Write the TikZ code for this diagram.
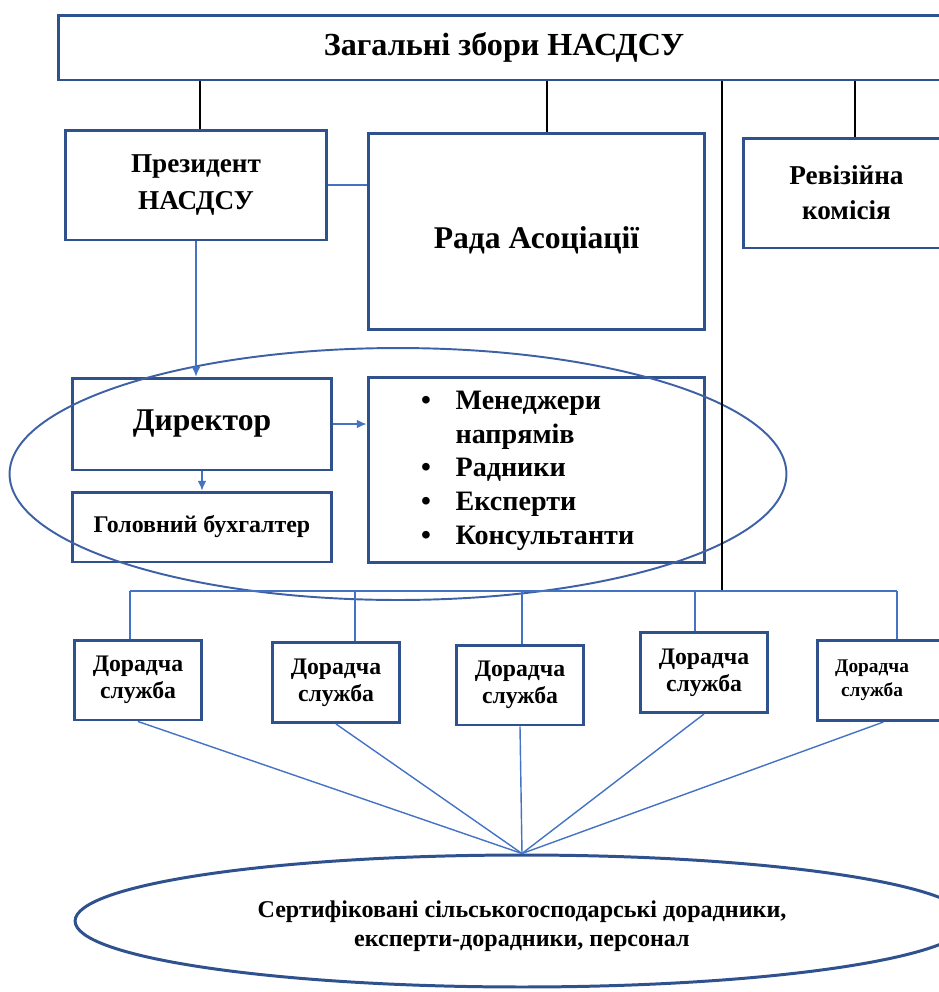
\documentclass[tikz,border=0pt]{standalone}
\usepackage{fontspec}
\setmainfont{Liberation Serif}
\usetikzlibrary{shapes.geometric,arrows.meta,calc}
\definecolor{boxblue}{RGB}{47,82,143}
\definecolor{linkblue}{RGB}{68,114,196}
\definecolor{ovalblue}{RGB}{62,96,165}
\begin{document}
\begin{tikzpicture}[x=0.02cm,y=-0.02cm,
  unit/.style={draw=boxblue, line width=1.7pt, rectangle, align=center, font=\bfseries},
  service/.style={unit, minimum width=2.56cm, minimum height=1.6cm, font=\bfseries\fontsize{13.5}{15.5}\selectfont},
  link/.style={draw=linkblue, line width=0.8pt},
  rule/.style={draw=black, line width=0.7pt},
  tip/.style={-{Latex[length=5.5pt,width=5pt]}}]
\useasboundingbox (0,0) rectangle (938,992);
\node[unit, minimum width=17.84cm, minimum height=1.3cm, font=\bfseries\fontsize{18.3}{20}\selectfont] (top) at (504,47.5) {Загальні збори НАСДСУ};
\node[unit, minimum width=5.24cm, minimum height=2.2cm, font=\bfseries\fontsize{15.5}{21}\selectfont] (pres) at (196,185) {Президент\\НАСДСУ};
\node[unit, minimum width=6.74cm, minimum height=3.94cm, text height=20pt, text depth=1pt, font=\bfseries\fontsize{18}{20}\selectfont] (rada) at (536.5,231.5) {Рада Асоціації};
\node[unit, minimum width=4.14cm, minimum height=2.2cm, font=\bfseries\fontsize{15.5}{20}\selectfont] (rev) at (846.5,193) {Ревізійна\\комісія};
\node[unit, minimum width=5.2cm, minimum height=1.84cm, font=\bfseries\fontsize{18}{20}\selectfont] (dir) at (202,424) {Директор};
\node[unit, minimum width=5.2cm, minimum height=1.4cm, font=\bfseries\fontsize{13.6}{15}\selectfont] (acc) at (202,527) {Головний бухгалтер};
\node[unit, minimum width=6.74cm, minimum height=3.72cm, font=\bfseries\fontsize{16}{19.2}\selectfont] (list) at (536.5,470) {%
  \kern-10pt\begin{tabular}{@{}c@{\hspace{14pt}}l@{}}
  \textbullet & Менеджери\\
              & напрямів\\
  \textbullet & Радники\\
  \textbullet & Експерти\\
  \textbullet & Консультанти
  \end{tabular}};
\node[service] (d1) at (138,680) {Дорадча\\служба};
\node[service] (d2) at (336,682.5) {Дорадча\\служба};
\node[service] (d3) at (520,685) {Дорадча\\служба};
\node[service] (d4) at (704,672.5) {Дорадча\\служба};
\node[service, minimum width=2.66cm, font=\bfseries\fontsize{11}{13.5}\selectfont] (d5) at (883.5,680.5) {\kern-13pt Дорадча\\\kern-13pt служба};
\node[ellipse, draw=ovalblue, line width=1.1pt, minimum width=15.54cm, minimum height=5.04cm] (core) at (398,474) {};
\node[ellipse, draw=boxblue, line width=1.7pt, minimum width=17.88cm, minimum height=2.64cm] (staff) at (522,921) {};
\node[align=center, font=\bfseries\fontsize{13.7}{16.5}\selectfont] (staffText) at ($(staff)+(0,5)$) {Сертифіковані сільськогосподарські дорадники,\\експерти-дорадники, персонал};
\coordinate (busL) at (130,591);
\coordinate (busR) at (897,591);
\coordinate (tap) at (722,591);
% lines from the general meeting
\foreach \b/\dx in {pres/4,rada/10.5,rev/8.5}
  \draw[rule] ($(\b.north)+(\dx,0)$) coordinate (t) -- (t |- top.south);
\draw[rule] (tap |- top.south) -- (tap);
\draw[link] (pres.east) -- (pres.east -| rada.west);
\draw[link,tip] (pres.south) -- (pres.south |- dir.north);
\draw[link,tip] (dir.south) -- (acc.north);
\draw[link,tip] (dir.east) -- (dir.east -| list.west);
% bus to the services
\draw[link] (busL) -- (busR);
\foreach \b/\dx in {d1/-8,d2/19,d3/2,d4/-9,d5/13.5}
  \draw[link] ($(\b.north)+(\dx,0)$) coordinate (t) -- (t |- busL);
\foreach \b in {d1,d2,d3,d4,d5}
  \draw[link] (\b.south) -- (staff.north);
\end{tikzpicture}
\end{document}
